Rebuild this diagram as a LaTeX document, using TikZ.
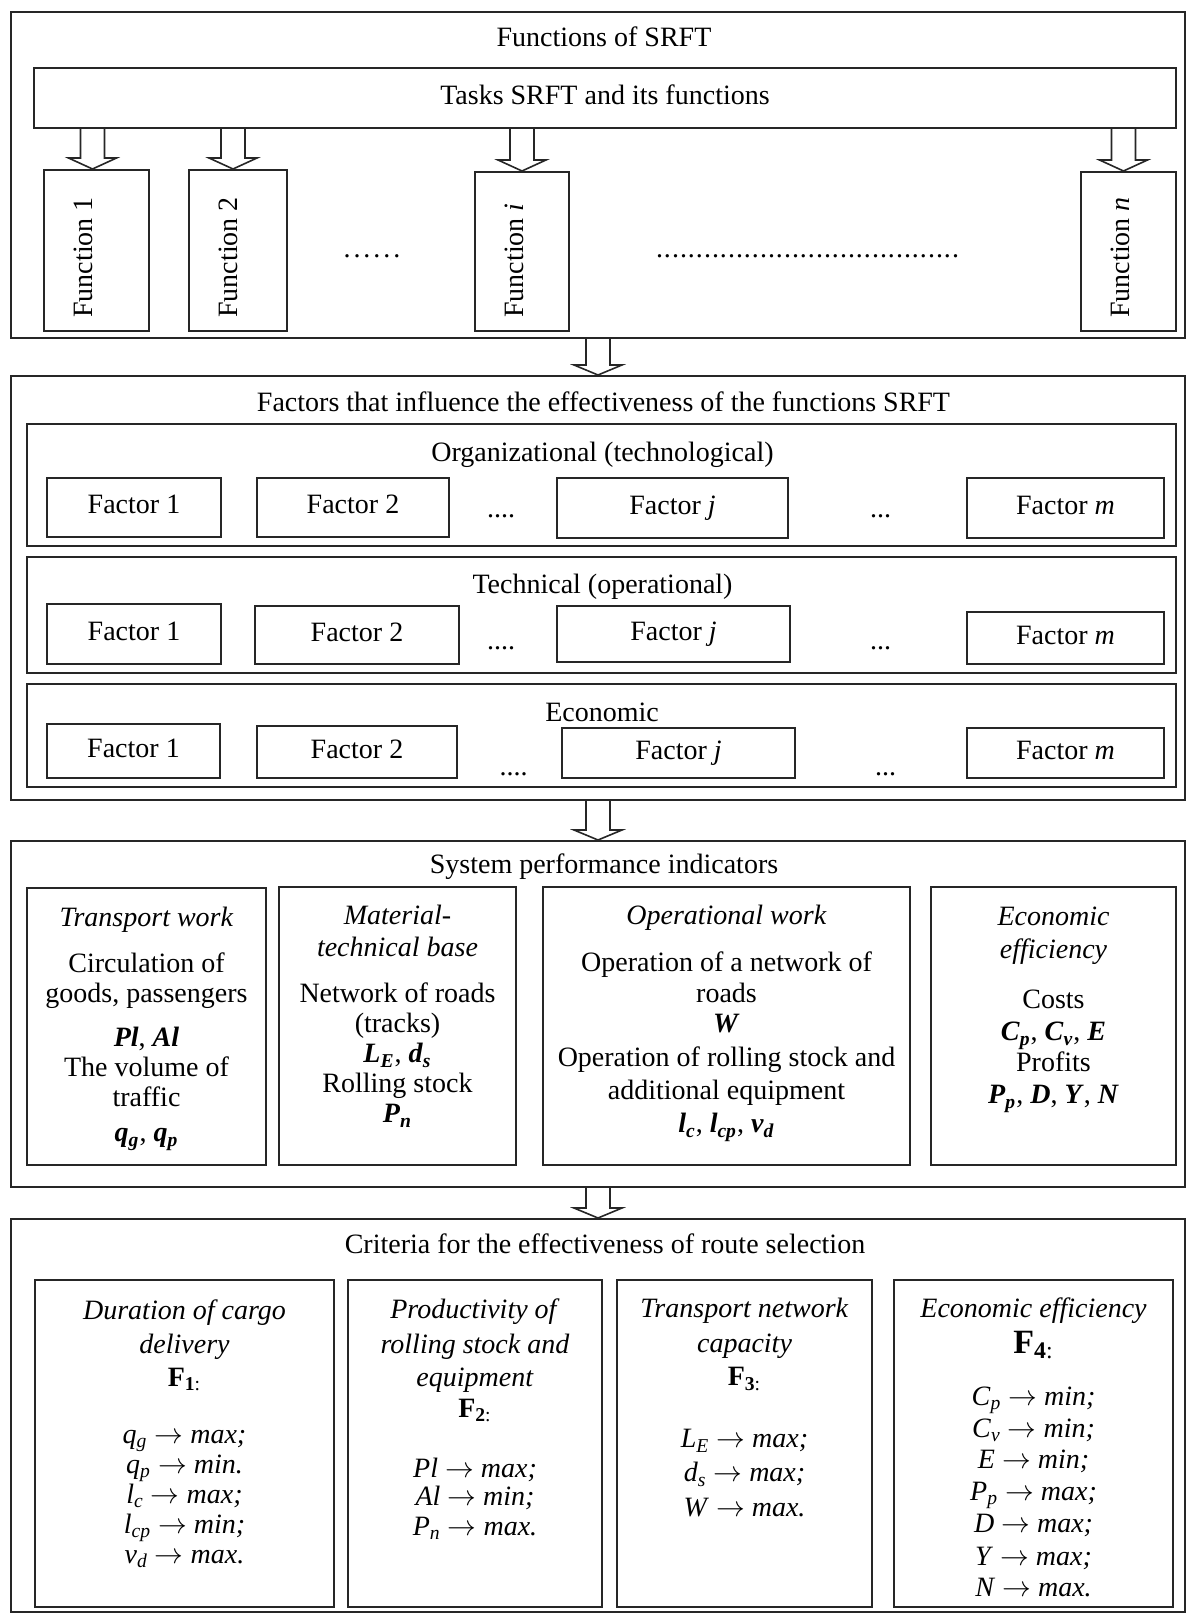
\documentclass[tikz,border=0pt]{standalone}
\usepackage{fontspec}
\setmainfont{Liberation Serif}
\usetikzlibrary{calc}

\newcommand{\bv}[1]{\textbf{\textit{#1}}}
\newcommand{\biv}[2]{\textbf{\textit{#1}}\textsubscript{\textbf{\textit{#2}}}}
\newcommand{\iv}[2]{\textit{#1}\textsubscript{\textit{#2}}}
\newcommand{\crit}[1]{\textbf{F}\textsubscript{\textbf{#1}:}}
\newcommand{\goal}[2]{#1 $\rightarrow$ \textit{#2}}
\newcommand{\dotrow}[2]{\makebox[#1]{\xleaders\hbox to #2{\hss.\hss}\hfill}}
% hollow arrow: start, tip, head length
\newcommand{\hollowarrow}[3]{%
  \draw[arrowline] ($(#1)+(-12,0)$) -- ($(#2)+(-12,-#3)$) -- ($(#2)+(-24,-#3)$)
    -- (#2) -- ($(#2)+(24,-#3)$) -- ($(#2)+(12,-#3)$) -- ($(#1)+(12,0)$);}

\tikzset{
  box/.style={draw=black!85, line width=1pt, inner sep=0pt,
    font=\fontsize{14}{15}\selectfont, text height=0.72em, text depth=0.08em},
  wh/.style 2 args={minimum width=#1*0.5pt, minimum height=#2*0.5pt},
  heading/.style={inner sep=0pt, font=\fontsize{14}{15}\selectfont,
    text height=0.72em, text depth=0.08em},
  txt/.style={align=center, inner sep=0pt, anchor=north,
    font=\fontsize{14}{15}\selectfont},
  vtext/.style={rotate=90, anchor=base west, inner sep=0pt,
    font=\fontsize{14}{15}\selectfont},
  dots/.style={anchor=base, inner sep=0pt, font=\fontsize{14}{15}\selectfont},
  arrowline/.style={draw=black!85, line width=0.8pt, line join=miter},
}

\begin{document}
\begin{tikzpicture}[x=0.5pt, y=-0.5pt]
\useasboundingbox (0,0) rectangle (1187,1620);

% the four sections
\node[box, wh={1174}{326}] (s1) at (598,175) {};
\node[box, wh={1174}{424}] (s2) at (598,588) {};
\node[box, wh={1174}{346}] (s3) at (598,1014) {};
\node[box, wh={1174}{393}] (s4) at (598,1415.5) {};

% functions
\node[heading] (t1) at (604,40) {Functions of SRFT};
\node[box, wh={1142}{60}] (tasks) at (605,98) {Tasks SRFT and its functions};
\node[box, wh={105}{161}] (f1) at (96.5,250.5) {};
\node[box, wh={98}{161}] (f2) at (238,250.5) {};
\node[box, wh={94}{159}] (fi) at (522,251.5) {};
\node[box, wh={95}{159}] (fn) at (1128.5,251.5) {};
\node[vtext] (lf1) at (92,318) {Function 1};
\node[vtext] (lf2) at (237,318) {Function 2};
\node[vtext] (lfi) at (523,318) {Function \textit{i}};
\node[vtext] (lfn) at (1129,318) {Function \textit{n}};
\node[dots] (d1) at (372,258) {\dotrow{30pt}{5pt}};
\node[dots] (d2) at (807.5,258) {\dotrow{152pt}{4pt}};

\coordinate (p1) at ($(f1.north)+(-4,0)$);
\coordinate (p2) at ($(f2.north)+(-5,0)$);
\coordinate (pi) at (fi.north);
\coordinate (pn) at ($(fn.north)+(-5,0)$);
\foreach \p in {p1,p2,pi,pn} {
  \coordinate (q) at (tasks.south -| \p);
  \hollowarrow{q}{\p}{11}
}
\hollowarrow{s1.south}{s2.north}{10}
\hollowarrow{s2.south}{s3.north}{10}
\hollowarrow{s3.south}{s4.north}{10}

% factors
\node[heading] (t2) at (603.5,405) {Factors that influence the effectiveness of the functions SRFT};
\node[box, wh={1149}{122}] (org) at (601.5,485) {};
\node[box, wh={1149}{116}] (tech) at (601.5,615) {};
\node[box, wh={1149}{103}] (eco) at (601.5,735.5) {};
\node[heading] (torg) at (602.5,455) {Organizational (technological)};
\node[heading] (ttech) at (602.5,587) {Technical (operational)};
\node[heading] (teco) at (602,715) {Economic};

\node[box, wh={174}{59}] (o1) at (134,507.5) {Factor 1};
\node[box, wh={192}{59}] (o2) at (353,507.5) {Factor 2};
\node[box, wh={231}{60}] (oj) at (672.5,508) {Factor \textit{j}};
\node[box, wh={197}{60}] (om) at (1065.5,508) {Factor \textit{m}};
\node[dots] (od1) at (501,517) {....};
\node[dots] (od2) at (880.5,517) {...};

\node[box, wh={174}{60}] (e1) at (134,634) {Factor 1};
\node[box, wh={204}{58}] (e2) at (357,635) {Factor 2};
\node[box, wh={233}{56}] (ej) at (673.5,634) {Factor \textit{j}};
\node[box, wh={197}{52}] (em) at (1065.5,638) {Factor \textit{m}};
\node[dots] (ed1) at (501,649) {....};
\node[dots] (ed2) at (880.5,649) {...};

\node[box, wh={173}{54}] (c1) at (133.5,751) {Factor 1};
\node[box, wh={200}{52}] (c2) at (357,752) {Factor 2};
\node[box, wh={233}{50}] (cj) at (678.5,753) {Factor \textit{j}};
\node[box, wh={197}{50}] (cm) at (1065.5,753) {Factor \textit{m}};
\node[dots] (cd1) at (513.5,775) {....};
\node[dots] (cd2) at (885.5,775) {...};

% indicators
\node[heading] (t3) at (604,867) {System performance indicators};
\node[box, wh={239}{277}] (ind1) at (146.5,1026.5) {};
\node[box, wh={237}{278}] (ind2) at (397.5,1026) {};
\node[box, wh={367}{278}] (ind3) at (726.5,1026) {};
\node[box, wh={245}{278}] (ind4) at (1053.5,1026) {};

\node[txt] (x1) at (146.5,907) {\textit{Transport work}\\[8pt]
  Circulation of\\
  goods, passengers\\[7pt]
  \bv{Pl}, \bv{Al}\\
  The volume of\\
  traffic\\[2.5pt]
  \biv{q}{g}, \biv{q}{p}};
\node[txt] (x2) at (397.5,905) {\textit{Material-}\\[1pt]
  \textit{technical base}\\[8pt]
  Network of roads\\
  (tracks)\\
  \biv{L}{E}, \biv{d}{s}\\
  Rolling stock\\
  \biv{P}{n}};
\node[txt] (x3) at (726.5,905) {\textit{Operational work}\\[8.5pt]
  Operation of a network of\\[0.5pt]
  roads\\
  \bv{W}\\[2pt]
  Operation of rolling stock and\\[1.5pt]
  additional equipment\\[1.5pt]
  \biv{l}{c}, \biv{l}{cp}, \biv{v}{d}};
\node[txt] (x4) at (1053.5,907) {\textit{Economic}\\[1.5pt]
  \textit{efficiency}\\[10pt]
  Costs\\[1pt]
  \biv{C}{p}, \biv{C}{v}, \bv{E}\\[0.5pt]
  Profits\\[1pt]
  \biv{P}{p}, \bv{D}, \bv{Y}, \bv{N}};

% criteria
\node[heading] (t4) at (605,1247) {Criteria for the effectiveness of route selection};
\node[box, wh={299}{327}] (cr1) at (184.5,1443.5) {};
\node[box, wh={254}{327}] (cr2) at (475,1443.5) {};
\node[box, wh={255}{327}] (cr3) at (744.5,1443.5) {};
\node[box, wh={279}{327}] (cr4) at (1033.5,1443.5) {};

\node[txt] (y1) at (184.5,1299) {\textit{Duration of cargo}\\[2pt]
  \textit{delivery}\\[1.5pt]
  \crit{1}\\[13.5pt]
  \goal{\iv{q}{g}}{max;}\\
  \goal{\iv{q}{p}}{min.}\\
  \goal{\iv{l}{c}}{max;}\\
  \goal{\iv{l}{cp}}{min;}\\
  \goal{\iv{v}{d}}{max.}};
\node[txt] (y2) at (475,1298) {\textit{Productivity of}\\[2.5pt]
  \textit{rolling stock and}\\[1.5pt]
  \textit{equipment}\\[0.5pt]
  \crit{2}\\[15pt]
  \goal{\textit{Pl}}{max;}\\[-1pt]
  \goal{\textit{Al}}{min;}\\
  \goal{\iv{P}{n}}{max.}};
\node[txt] (y3) at (744.5,1298) {\textit{Transport network}\\[2.5pt]
  \textit{capacity}\\[1.5pt]
  \crit{3}\\[16pt]
  \goal{\iv{L}{E}}{max;}\\[2pt]
  \goal{\iv{d}{s}}{max;}\\[2.5pt]
  \goal{\textit{W}}{max.}};
\node[txt] (y4) at (1033.5,1297) {\textit{Economic efficiency}\\[3pt]
  {\fontsize{17}{17}\selectfont\crit{4}}\\[11pt]
  \goal{\iv{C}{p}}{min;}\\[1pt]
  \goal{\iv{C}{v}}{min;}\\[0.5pt]
  \goal{\textit{E}}{min;}\\[1pt]
  \goal{\iv{P}{p}}{max;}\\[1pt]
  \goal{\textit{D}}{max;}\\[1.5pt]
  \goal{\textit{Y}}{max;}\\[0.5pt]
  \goal{\textit{N}}{max.}};
\end{tikzpicture}
\end{document}
